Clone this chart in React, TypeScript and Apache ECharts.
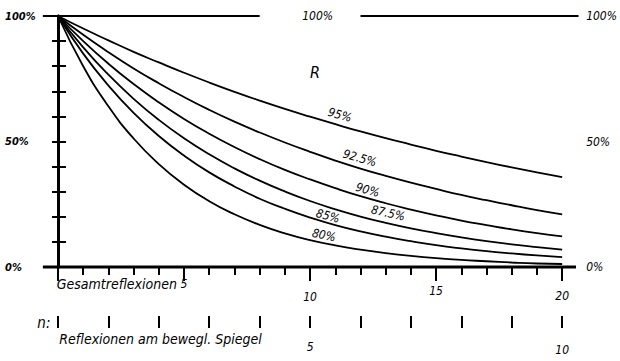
import React, { useEffect, useRef } from 'react';
import * as echarts from 'echarts';

const nValues = [0, 1, 2, 3, 4, 5, 6, 7, 8, 9, 10, 11, 12, 13, 14, 15, 16, 17, 18, 19, 20];
const r95 = [100, 95.0, 90.3, 85.7, 81.5, 77.4, 73.5, 69.8, 66.3, 63.0, 59.9, 56.9, 54.0, 51.3, 48.8, 46.3, 44.0, 41.8, 39.7, 37.7, 35.8];
const r925 = [100, 92.5, 85.6, 79.1, 73.2, 67.7, 62.6, 57.9, 53.6, 49.6, 45.9, 42.4, 39.2, 36.3, 33.6, 31.1, 28.7, 26.6, 24.6, 22.7, 21.0];
const r90 = [100, 90.0, 81.0, 72.9, 65.6, 59.0, 53.1, 47.8, 43.0, 38.7, 34.9, 31.4, 28.2, 25.4, 22.9, 20.6, 18.5, 16.7, 15.0, 13.5, 12.2];
const r875 = [100, 87.5, 76.6, 67.0, 58.6, 51.3, 44.9, 39.3, 34.4, 30.1, 26.3, 23.0, 20.1, 17.6, 15.4, 13.5, 11.8, 10.3, 9.0, 7.9, 6.9];
const r85 = [100, 85.0, 72.3, 61.4, 52.2, 44.4, 37.7, 32.1, 27.2, 23.2, 19.7, 16.7, 14.2, 12.1, 10.3, 8.7, 7.4, 6.3, 5.4, 4.6, 3.9];
const r80 = [100, 80.0, 64.0, 51.2, 41.0, 32.8, 26.2, 21.0, 16.8, 13.4, 10.7, 8.6, 6.9, 5.5, 4.4, 3.5, 2.8, 2.3, 1.8, 1.4, 1.2];

const seriesNames = ['95%', '92.5%', '90%', '87.5%', '85%', '80%'];
const seriesData = [r95, r925, r90, r875, r85, r80];

const yLabelValues = [0, 50, 100];
const xLabelValues = [5, 10, 15, 20];
const nLabelValues = [5, 10];

const FONT = "'DejaVu Sans Condensed', 'DejaVu Sans', sans-serif";

export default function App() {
  const ref = useRef<HTMLDivElement>(null);
  useEffect(() => {
    if (!ref.current) return;
    const chart = echarts.init(ref.current, null, { renderer: 'svg' });
    const txt = { fontFamily: FONT, fontStyle: 'italic', color: '#000' } as any;
    const tickStyle = { color: '#000', width: 2 };
    const xRich: Record<string, any> = {
      a: { ...txt, fontSize: 12, lineHeight: 12 },
      b: { ...txt, fontSize: 12, lineHeight: 38 },
      c: { ...txt, fontSize: 12, lineHeight: 26 },
      d: { ...txt, fontSize: 12, lineHeight: 36 },
    };
    const xKeys = ['a', 'b', 'c', 'd'];
    const option: any = {
      animation: false,
      backgroundColor: '#fff',
      grid: { left: 58, right: 54, top: 16, bottom: 94 },
      xAxis: [
        {
          type: 'value', min: 0, max: 20, interval: 1, position: 'bottom',
          axisLine: { show: false }, splitLine: { show: false },
          axisTick: { show: true, length: 8, lineStyle: tickStyle },
          axisLabel: { show: false },
        },
        {
          type: 'value', min: 0, max: 20, interval: 5, position: 'bottom',
          axisLine: { show: false }, splitLine: { show: false },
          axisTick: { show: true, length: 14, lineStyle: tickStyle },
          axisLabel: {
            margin: 11,
            formatter: (v: number) => {
              const i = xLabelValues.indexOf(v);
              return i < 0 ? '' : `{${xKeys[i]}|${v}}`;
            },
            rich: xRich,
          },
        },
        {
          type: 'value', min: 0, max: 10, interval: 1, position: 'bottom', offset: 49,
          axisLine: { show: false }, splitLine: { show: false },
          axisTick: { show: true, length: 12, lineStyle: tickStyle },
          axisLabel: {
            margin: 25,
            formatter: (v: number) => (nLabelValues.indexOf(v) < 0 ? '' : v === 5 ? `{a|${v}}` : `{b|${v}}`),
            rich: {
              a: { ...txt, fontSize: 12, lineHeight: 12 },
              b: { ...txt, fontSize: 12, lineHeight: 18 },
            },
          },
        },
      ],
      yAxis: [
        {
          type: 'value', min: 0, max: 100, interval: 10, position: 'left',
          axisLine: { show: true, lineStyle: { color: '#000', width: 3 } },
          splitLine: { show: false },
          axisTick: { show: true, length: 6, lineStyle: tickStyle },
          axisLabel: {
            ...txt, fontSize: 11, fontWeight: 'bold', align: 'left', margin: 53,
            formatter: (v: number) => (yLabelValues.indexOf(v) < 0 ? '' : `${v}%`),
          },
        },
        {
          type: 'value', min: 0, max: 100, interval: 10, position: 'right',
          axisLine: { show: true, lineStyle: { color: '#000', width: 3 } },
          splitLine: { show: false },
          axisTick: { show: true, length: 8, lineStyle: tickStyle },
          axisLabel: {
            ...txt, fontSize: 12, align: 'left', margin: 24,
            formatter: (v: number) => (yLabelValues.indexOf(v) < 0 ? '' : `${v}%`),
          },
        },
      ],
      series: seriesNames.map((name, i) => ({
        name,
        type: 'line',
        xAxisIndex: 0,
        yAxisIndex: 0,
        data: nValues.map((n, j) => [n, seriesData[i][j]]),
        smooth: true,
        symbol: 'none',
        lineStyle: { color: '#000', width: 1.8 },
      })),
    };
    chart.setOption(option);

    const p = (x: number, y: number) => chart.convertToPixel({ seriesIndex: 0 }, [x, y]) as number[];
    const hline = (x0: number, x1: number, y: number, w: number) => {
      const a = p(x0, y);
      const b = p(x1, y);
      return { type: 'line', shape: { x1: a[0], y1: a[1], x2: b[0], y2: b[1] }, style: { stroke: '#000', lineWidth: w }, z: 10 };
    };
    const text = (s: string, x: number, y: number, size: number, rot = 0, align = 'center', extra: any = {}) => {
      const q = p(x, y);
      return {
        type: 'text', x: q[0], y: q[1], rotation: rot, z: 10,
        style: { text: s, fontFamily: FONT, fontStyle: 'italic', fontSize: size, fill: '#000', align, verticalAlign: 'middle', ...extra },
      };
    };
    const labelPos: [number, number, number][] = [
      [11.18, 60.6, -0.27],
      [11.97, 43.4, -0.27],
      [12.28, 30.7, -0.27],
      [13.1, 21.5, -0.22],
      [10.71, 20.3, -0.27],
      [10.55, 12.7, -0.2],
    ];
    const graphics: any[] = [
      hline(-0.6, 8.0, 100, 2),
      hline(12.0, 20.65, 100, 2),
      hline(-0.6, 20.55, 0, 3),
      text('100%', 10.3, 100, 12),
      text('R', 10.2, 77.3, 16, 0, 'center', { fontWeight: 'lighter' }),
      text('Gesamtreflexionen', -0.05, -6.8, 14, 0, 'left'),
      text('n:', -0.3, -22.3, 15, 0, 'right'),
      text('Reflexionen am bewegl. Spiegel', 0.05, -28.5, 14, 0, 'left'),
      ...seriesNames.map((s, i) => text(s, labelPos[i][0], labelPos[i][1], 12, labelPos[i][2])),
    ];
    chart.setOption({ graphic: graphics });
    return () => chart.dispose();
  }, []);
  return <div ref={ref} style={{ width: 620, height: 361, position: 'absolute', left: 0, top: 0 }} />;
}
